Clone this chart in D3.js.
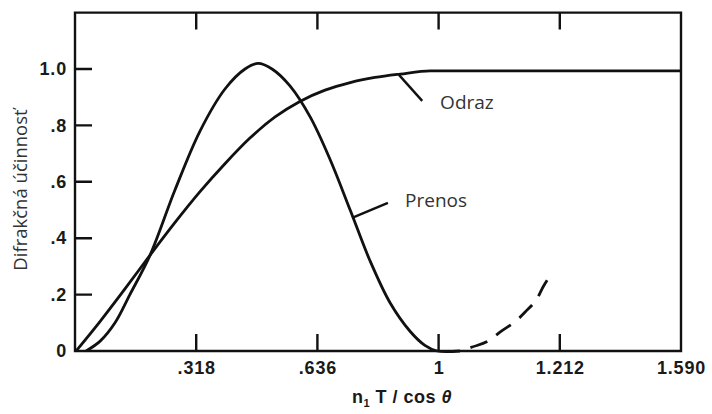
<!DOCTYPE html>
<html>
<head>
<meta charset="utf-8">
<script src="https://cdn.jsdelivr.net/npm/d3@7"></script>
<style>
  html, body { margin: 0; padding: 0; background: #fff; }
  svg { display: block; }
</style>
</head>
<body>
<svg id="chart" width="712" height="414"></svg>
<script>
// Normalised thickness axis and diffraction efficiency readings
const xTickValues = [0.318, 0.636, 0.954, 1.272, 1.590];
const xTickLabels = [".318", ".636", "1", "1.212", "1.590"];
const yTickValues = [0, 0.2, 0.4, 0.6, 0.8, 1.0];
const yTickLabels = ["0", ".2", ".4", ".6", ".8", "1.0"];

// Transmission grating (Prenos), solid part
const prenosX = [0.029, 0.066, 0.105, 0.144, 0.197, 0.262, 0.328, 0.394, 0.446, 0.480, 0.517, 0.564, 0.617, 0.669, 0.722, 0.774, 0.827, 0.879, 0.918, 0.950, 1.010];
const prenosY = [0.000, 0.035, 0.100, 0.200, 0.340, 0.570, 0.780, 0.930, 1.000, 1.020, 1.000, 0.940, 0.830, 0.680, 0.500, 0.320, 0.170, 0.070, 0.020, 0.000, 0.000];

// Transmission continuation (dashed)
const prenosDashX = [1.010, 1.042, 1.089, 1.115, 1.160, 1.181, 1.215, 1.228, 1.254];
const prenosDashY = [0.000, 0.014, 0.039, 0.067, 0.110, 0.138, 0.192, 0.227, 0.280];

// Reflection grating (Odraz)
const odrazX = [0.003, 0.066, 0.131, 0.197, 0.262, 0.328, 0.394, 0.459, 0.525, 0.590, 0.656, 0.722, 0.787, 0.853, 0.932, 1.590];
const odrazY = [0.000, 0.105, 0.220, 0.340, 0.455, 0.565, 0.665, 0.755, 0.830, 0.885, 0.925, 0.952, 0.970, 0.982, 0.993, 0.993];

// Curve labels: text, anchor of the text, leader line start (on curve) and end
const curveLabels = [
  { text: "Odraz",  tx: 0.958, ty: 0.883, lx1: 0.850, ly1: 0.979, lx2: 0.911, ly2: 0.887 },
  { text: "Prenos", tx: 0.866, ty: 0.535, lx1: 0.727, ly1: 0.472, lx2: 0.821, ly2: 0.525 }
];

const yTitle = "Difrakčná účinnosť";

const svg = d3.select("#chart");
const plotLeft = 75, plotRight = 681, plotTop = 12.6, plotBottom = 351;
const tickLen = 17;

const x = d3.scaleLinear().domain([0, 1.59]).range([plotLeft, plotRight]);
const y = d3.scaleLinear().domain([0, 1.2]).range([plotBottom, plotTop]);

const ink = "#111";
const tickFont = "'Liberation Sans', Arial, sans-serif";
const noteFont = "'Open Sans', 'Noto Sans', sans-serif";

// Axis labels come from d3 axes; tick marks are part of the frame outline below
const xAxisBottom = d3.axisBottom(x)
  .tickValues(xTickValues)
  .tickSize(0)
  .tickPadding(10)
  .tickFormat((d, i) => xTickLabels[i]);

const yAxisLeft = d3.axisLeft(y)
  .tickValues(yTickValues)
  .tickSize(0)
  .tickPadding(8)
  .tickFormat((d, i) => yTickLabels[i]);

function styleAxis(g) {
  g.select(".domain").remove();
  g.selectAll(".tick line").remove();
  g.selectAll(".tick text")
    .attr("fill", "#1a1a1a")
    .style("font-family", tickFont)
    .style("font-size", "18px")
    .style("font-weight", "bold")
    .style("letter-spacing", "0.8px");
}

svg.append("g").attr("transform", `translate(0,${plotBottom})`).call(xAxisBottom).call(styleAxis);
svg.append("g").attr("transform", `translate(${plotLeft},0)`).call(yAxisLeft).call(styleAxis);

// Frame outline traced as one continuous path with inward tick excursions
const innerX = xTickValues.slice(0, 4);
const innerY = yTickValues.slice(1);
const frame = d3.path();
frame.moveTo(plotLeft, plotBottom);
innerX.forEach(d => {
  frame.lineTo(x(d), plotBottom);
  frame.lineTo(x(d), plotBottom - tickLen);
  frame.lineTo(x(d), plotBottom);
});
frame.lineTo(plotRight, plotBottom);
frame.lineTo(plotRight, plotTop);
innerX.slice().reverse().forEach(d => {
  frame.lineTo(x(d), plotTop);
  frame.lineTo(x(d), plotTop + tickLen);
  frame.lineTo(x(d), plotTop);
});
frame.lineTo(plotLeft, plotTop);
innerY.slice().reverse().forEach(d => {
  frame.lineTo(plotLeft, y(d));
  frame.lineTo(plotLeft + tickLen, y(d));
  frame.lineTo(plotLeft, y(d));
});
frame.closePath();

svg.append("path")
  .attr("d", frame.toString())
  .attr("fill", "none")
  .attr("stroke", ink)
  .attr("stroke-width", 2.4)
  .attr("stroke-linejoin", "miter")
  .attr("stroke-linecap", "square");

const line = d3.line()
  .x(d => x(d[0]))
  .y(d => y(d[1]))
  .curve(d3.curveMonotoneX);

const odraz = odrazX.map((v, i) => [v, odrazY[i]]);
const prenos = prenosX.map((v, i) => [v, prenosY[i]]);
const prenosDash = prenosDashX.map((v, i) => [v, prenosDashY[i]]);

svg.append("path")
  .datum(odraz)
  .attr("d", line)
  .attr("fill", "none")
  .attr("stroke", ink)
  .attr("stroke-width", 2.8);

svg.append("path")
  .datum(prenos)
  .attr("d", d3.line().x(d => x(d[0])).y(d => y(d[1])).curve(d3.curveCatmullRom.alpha(0.5)))
  .attr("fill", "none")
  .attr("stroke", ink)
  .attr("stroke-width", 2.8);

svg.append("path")
  .datum(prenosDash)
  .attr("d", line)
  .attr("fill", "none")
  .attr("stroke", ink)
  .attr("stroke-width", 2.8)
  .attr("stroke-dasharray", "18,11")
  .attr("stroke-dashoffset", -11);

// Leader lines and curve names
curveLabels.forEach(c => {
  svg.append("line")
    .attr("x1", x(c.lx1)).attr("y1", y(c.ly1))
    .attr("x2", x(c.lx2)).attr("y2", y(c.ly2))
    .attr("stroke", ink)
    .attr("stroke-width", 2.4);
  svg.append("text")
    .attr("x", x(c.tx))
    .attr("y", y(c.ty))
    .attr("dy", "0.35em")
    .attr("fill", "#333")
    .style("font-family", noteFont)
    .style("font-size", "19px")
    .text(c.text);
});

// Y axis title
svg.append("text")
  .attr("transform", "translate(21,190) rotate(-90)")
  .attr("text-anchor", "middle")
  .attr("dy", "0.35em")
  .attr("fill", "#333")
  .style("font-family", noteFont)
  .style("font-size", "18.5px")
  .text(yTitle);

// X axis title: n₁T / cos θ
const xt = svg.append("text")
  .attr("x", 402)
  .attr("y", 403)
  .attr("text-anchor", "middle")
  .attr("fill", "#1a1a1a")
  .style("font-family", tickFont)
  .style("font-size", "18px")
  .style("font-weight", "bold")
  .style("letter-spacing", "0.5px");
xt.append("tspan").text("n");
xt.append("tspan").attr("dy", 4).style("font-size", "11px").text("1");
xt.append("tspan").attr("dy", -4).text(" T / cos ");
xt.append("tspan").style("font-style", "italic").text("θ");
</script>
</body>
</html>
